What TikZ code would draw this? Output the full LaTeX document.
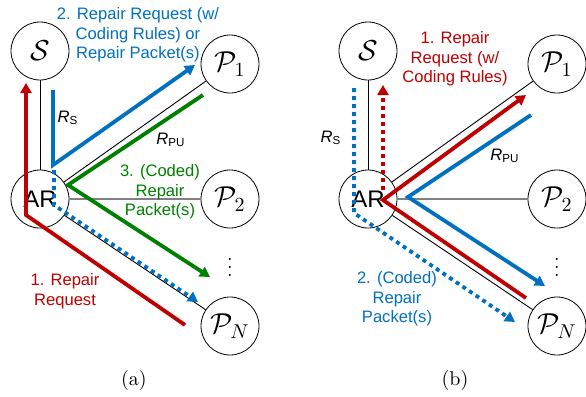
\documentclass[tikz,border=0pt]{standalone}
\usepackage{fontspec}
\setsansfont{Liberation Sans}
\usetikzlibrary{arrows.meta}
\definecolor{reqred}{RGB}{192,0,0}
\definecolor{pktblue}{RGB}{0,112,192}
\definecolor{pktgreen}{RGB}{0,128,0}
\tikzset{
  peer/.style={circle,draw,thin,minimum size=29pt,inner sep=0pt,font=\Large},
  arnode/.style={peer,font=\sffamily\fontsize{12}{14}\selectfont},
  link/.style={line width=0.45pt},
  flow/.style={line width=1.9pt,-{Triangle[length=5pt,width=5.5pt]}},
  dotflow/.style={flow,dash pattern=on 2pt off 2pt},
  lbl/.style={font=\sffamily\fontsize{8.3}{9.8}\selectfont,align=center,inner sep=0pt},
}
\begin{document}
\begin{tikzpicture}[x=0.5pt,y=-0.5pt]
		\useasboundingbox (0,0) rectangle (586,397);
		% (a) nodes
		\node[peer] (S) at (40,51) {$\mathcal{S}$};
		\node[arnode] (AR) at (40,199) {AR};
		\node[peer] (P1) at (230,64) {$\mathcal{P}_1$};
		\node[peer] (P2) at (230,199) {$\mathcal{P}_2$};
		\node[peer] (PN) at (230,326) {$\mathcal{P}_N$};
		\node (dots) at (230,261) {$\vdots$};
		% (a) links
		\draw[link] (S) -- (AR);
		\draw[link] (AR) -- (P1);
		\draw[link,gray,line width=0.6pt] (AR) -- (P2);
		\draw[link] (AR) -- (PN);
		% (a) flows
		\draw[flow,reqred] (185,325) -- (26,215) -- (26,83);
		\draw[flow,pktblue] (53,90) -- (53,165) -- (195,65);
		\draw[dotflow,pktblue] (54,170) -- (54,205) -- (198,302);
		\draw[flow,pktgreen] (203,95) -- (68,185) -- (210,277);
		% (a) labels
		\node[lbl,text=pktblue] (reqa) at (138,35) {2. Repair Request (w/\\Coding Rules) or\\Repair Packet(s)};
		\node[lbl] (rsa) at (68,118) {\textit{R}\textsubscript{S}};
		\node[lbl] (rpua) at (171,140) {\textit{R}\textsubscript{PU}};
		\node[lbl,text=pktgreen] (pkta) at (160,192) {3. (Coded)\\Repair\\Packet(s)};
		\node[lbl,text=reqred] (req1a) at (65,291) {1. Repair\\Request};
		\node (capa) at (134,380) {(a)};
		
		% (b) nodes
		\node[peer] (Sb) at (368,51) {$\mathcal{S}$};
		\node[arnode] (ARb) at (368,199) {AR};
		\node[peer] (P1b) at (557,64) {$\mathcal{P}_1$};
		\node[peer] (P2b) at (557,199) {$\mathcal{P}_2$};
		\node[peer] (PNb) at (557,326) {$\mathcal{P}_N$};
		\node (dotsb) at (557,261) {$\vdots$};
		% (b) links
		\draw[link] (Sb) -- (ARb);
		\draw[link] (ARb) -- (P1b);
		\draw[link,gray,line width=0.6pt] (ARb) -- (P2b);
		\draw[link] (ARb) -- (PNb);
		% (b) flows
		\draw[flow,reqred] (526,298) -- (383,200) -- (526,95);
		\draw[dotflow,reqred] (383,190) -- (383,85);
		\draw[flow,pktblue] (531,115) -- (408,197) -- (545,286);
		\draw[dotflow,pktblue] (354,88) -- (354,213) -- (515,322);
		% (b) labels
		\node[lbl,text=reqred] (reqb) at (455,59) {1. Repair\\Request (w/\\Coding Rules)};
		\node[lbl] (rsb) at (331,138) {\textit{R}\textsubscript{S}};
		\node[lbl] (rpub) at (505,156) {\textit{R}\textsubscript{PU}};
		\node[lbl,text=pktblue] (pktb) at (397,299) {2. (Coded)\\Repair\\Packet(s)};
		\node (capb) at (455,380) {(b)};
\end{tikzpicture}
\end{document}
